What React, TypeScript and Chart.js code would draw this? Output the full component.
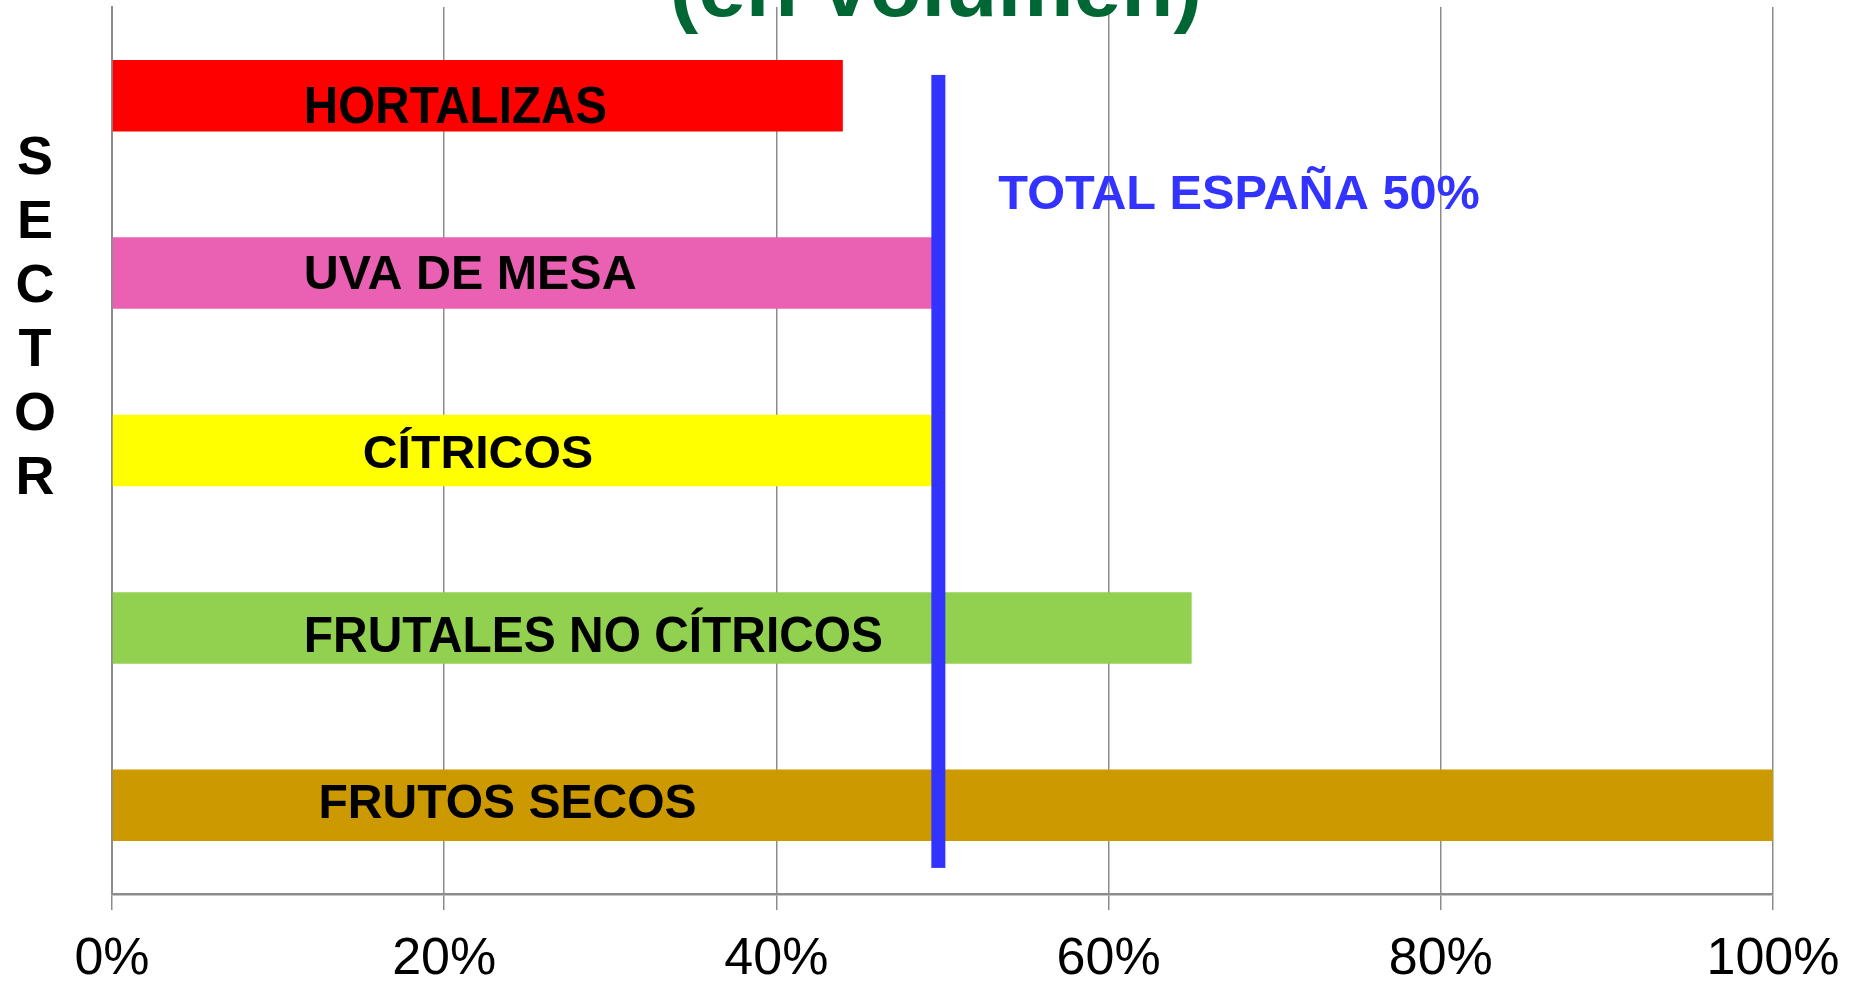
import React, { useEffect, useRef } from "react";
import { Chart, registerables } from "chart.js";

Chart.register(...registerables);

// ---- data ----
const categories = ["HORTALIZAS", "UVA DE MESA", "CÍTRICOS", "FRUTALES NO CÍTRICOS", "FRUTOS SECOS"];
const shares = [44, 49.5, 49.5, 65, 100];
const barColors = ["#FF0000", "#EA60B2", "#FFFF00", "#92D050", "#CC9900"];
const xTickValues = [0, 20, 40, 60, 80, 100];
const totalLineValue = 49.75;
const totalLabel = "TOTAL ESPAÑA 50%";
const titleText = "(en volumen)";
const axisTitleLetters = ["S", "E", "C", "T", "O", "R"];

// ---- layout / style (not data) ----
const FONT = '"Liberation Sans", Arial, sans-serif';
const labelLayout = [
  { x: 11.55, dy: 27, sx: 0.988, sy: 1.06 },
  { x: 11.55, dy: 16, sx: 1.005, sy: 1.0 },
  { x: 15.1, dy: 17.5, sx: 1.0, sy: 0.97 },
  { x: 11.55, dy: 24, sx: 0.994, sy: 1.03 },
  { x: 12.43, dy: 13, sx: 0.997, sy: 1.0 },
];
const lineSpan = { from: -0.117, to: 4.353, width: 14 };
const totalLabelPos = { x: 53.36, y: 0.639 };

const overlayPlugin = {
  id: "overlay",
  afterDatasetsDraw(chart: any) {
    const { ctx, scales } = chart;
    const x = scales.x;
    const y = scales.y;
    ctx.save();
    // bar labels
    ctx.fillStyle = "#000000";
    ctx.textAlign = "left";
    ctx.textBaseline = "alphabetic";
    categories.forEach((c, i) => {
      const L = labelLayout[i];
      const px = x.getPixelForValue(L.x);
      const py = y.getPixelForValue(i) + L.dy;
      ctx.save();
      ctx.translate(px, py);
      ctx.scale(L.sx, L.sy);
      ctx.font = `bold 48.2px ${FONT}`;
      ctx.fillText(c, 0, 0);
      ctx.restore();
    });
    // total line
    const lx = x.getPixelForValue(totalLineValue);
    const y0 = y.getPixelForValue(lineSpan.from);
    const y1 = y.getPixelForValue(lineSpan.to);
    ctx.fillStyle = "#3333FF";
    ctx.fillRect(lx - lineSpan.width / 2, y0, lineSpan.width, y1 - y0);
    // total label
    ctx.font = `bold 48.7px ${FONT}`;
    ctx.fillText(totalLabel, x.getPixelForValue(totalLabelPos.x), y.getPixelForValue(totalLabelPos.y));
    // title (cut off at top)
    ctx.fillStyle = "#006633";
    ctx.textAlign = "center";
    ctx.font = `bold 85.5px ${FONT}`;
    ctx.fillText(titleText, x.getPixelForValue(49.6), 16);
    // vertical axis title letters
    ctx.fillStyle = "#000000";
    ctx.font = `bold 54px ${FONT}`;
    axisTitleLetters.forEach((ch, i) => {
      ctx.fillText(ch, 35, 174 + 64 * i);
    });
    ctx.restore();
  },
};

export default function App() {
  const ref = useRef<HTMLCanvasElement | null>(null);

  useEffect(() => {
    document.body.style.margin = "0";
    document.body.style.overflow = "hidden";
    const canvas = ref.current;
    if (!canvas) return;
    const chart = new Chart(canvas, {
      type: "bar",
      data: {
        labels: categories,
        datasets: [
          {
            data: shares,
            backgroundColor: barColors,
            borderWidth: 0,
            categoryPercentage: 1,
            barPercentage: 0.403,
          },
        ],
      },
      options: {
        indexAxis: "y",
        responsive: false,
        animation: false,
        devicePixelRatio: 1,
        layout: { padding: { left: 112, right: 90, top: 7, bottom: 0 } },
        plugins: {
          legend: { display: false },
          tooltip: { enabled: false },
          title: { display: false },
        },
        scales: {
          x: {
            type: "linear",
            min: 0,
            max: 100,
            afterBuildTicks: (s: any) => {
              s.ticks = xTickValues.map((v) => ({ value: v }));
            },
            afterFit: (s: any) => {
              s.height = 91;
            },
            ticks: {
              padding: 18,
              color: "#000000",
              font: { family: FONT, size: 52 },
              callback: (v: any) => `${v}%`,
              maxRotation: 0,
            },
            grid: {
              color: "#8c8c8c",
              lineWidth: 1.5,
              tickLength: 16,
              drawTicks: true,
            },
            border: { display: true, color: "#8c8c8c", width: 2.5 },
          },
          y: {
            type: "category",
            afterFit: (s: any) => {
              s.width = 0;
            },
            ticks: { display: false },
            grid: { display: false, drawTicks: false },
            border: { display: true, color: "#8c8c8c", width: 2 },
          },
        },
      },
      plugins: [overlayPlugin],
    } as any);
    return () => chart.destroy();
  }, []);

  return (
    <div style={{ width: 1863, height: 985, background: "#ffffff" }}>
      <canvas ref={ref} width={1863} height={985} style={{ display: "block" }} />
    </div>
  );
}
